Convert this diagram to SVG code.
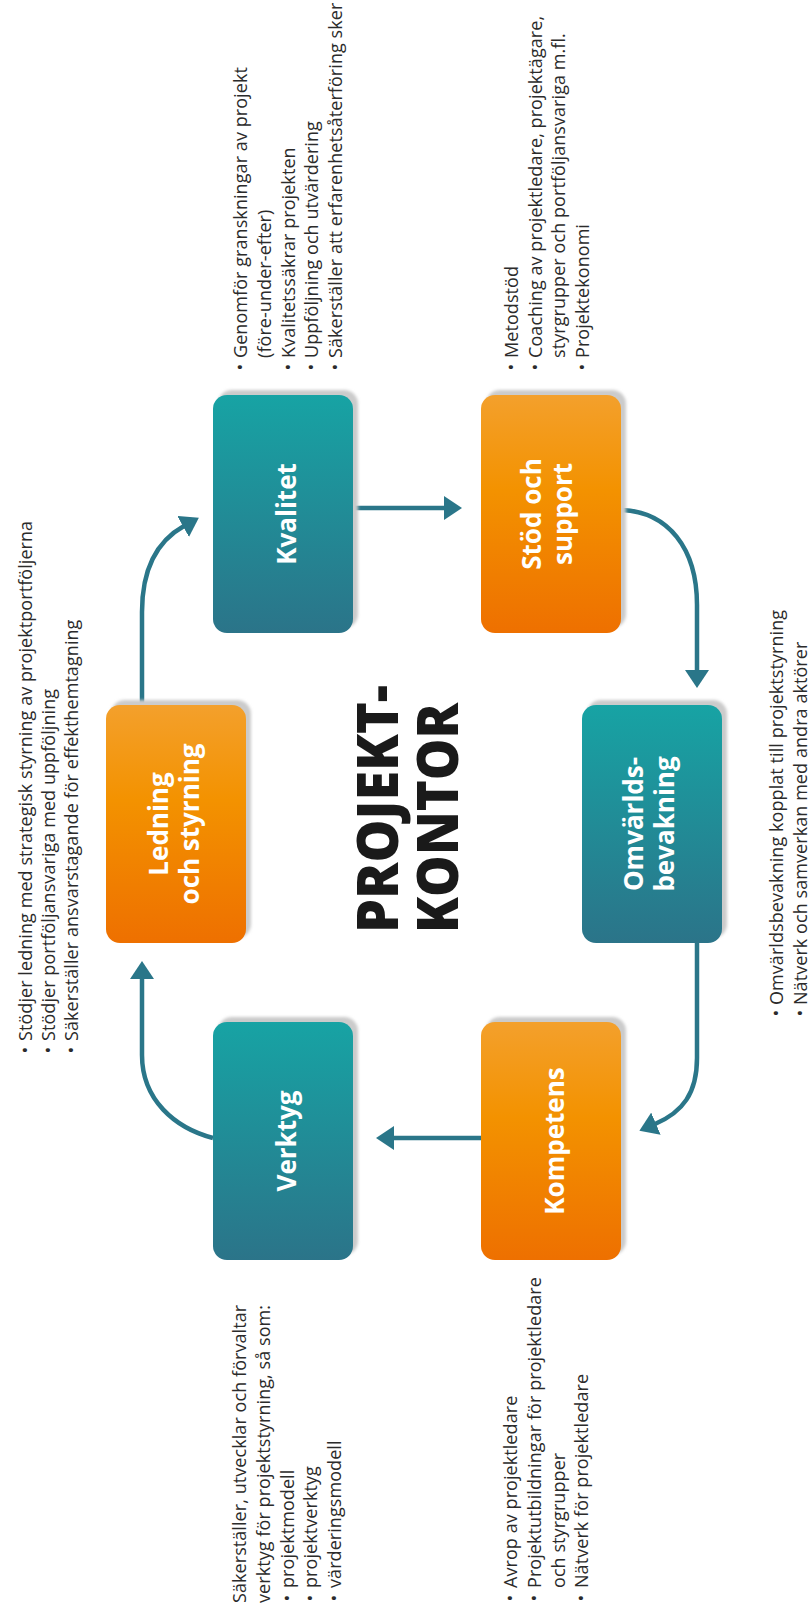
<svg xmlns="http://www.w3.org/2000/svg" width="809" height="1608" viewBox="0 0 809 1608">
<defs>
<linearGradient id="gTeal" x1="0" y1="0" x2="0" y2="1">
<stop offset="0" stop-color="#17a3a4"/>
<stop offset="1" stop-color="#2b7489"/>
</linearGradient>
<linearGradient id="gOrange" x1="0" y1="0" x2="0" y2="1">
<stop offset="0" stop-color="#f3a02c"/>
<stop offset="0.4" stop-color="#f39200"/>
<stop offset="1" stop-color="#ee7000"/>
</linearGradient>
<filter id="blur" x="-10%" y="-10%" width="120%" height="120%">
<feGaussianBlur stdDeviation="1.5"/>
</filter>
<marker id="ah" markerUnits="userSpaceOnUse" markerWidth="18" markerHeight="24" viewBox="0 0 18 24" refX="1" refY="12" orient="auto">
<path d="M0,0 L18,12 L0,24 z" fill="#2a7689"/>
</marker>
</defs>
<style>
.shadow{fill:#cbcbcb;filter:url(#blur)}
.teal{fill:url(#gTeal)}
.orange{fill:url(#gOrange)}
.lbl{font-family:"Open Sans","Noto Sans",sans-serif;font-weight:700;font-size:26px;fill:#ffffff;text-anchor:middle}
.d{font-family:"Open Sans","Noto Sans",sans-serif;font-size:18px;letter-spacing:0.07px;fill:#2b2b2b}
.b{text-anchor:middle}
.title{font-family:"Open Sans","Noto Sans",sans-serif;font-weight:800;font-size:57px;fill:#1a1a1a}
.conn{fill:none;stroke:#2a7689;stroke-width:4.5}
</style>
<rect width="809" height="1608" fill="#ffffff"/>

<g id="connectors">
<path class="conn" d="M142,705 L142,612 C142,568 157,541 184,526" marker-end="url(#ah)"/>
<path class="conn" d="M353,508 L445,508" marker-end="url(#ah)"/>
<path class="conn" d="M622,510 C668,512 697,548 697,605 L697,671" marker-end="url(#ah)"/>
<path class="conn" d="M697,943 L697,1058 C697,1093 683,1112 655,1124" marker-end="url(#ah)"/>
<path class="conn" d="M481,1138 L393,1138" marker-end="url(#ah)"/>
<path class="conn" d="M213,1138 C175,1128 142,1100 142,1055 L142,978" marker-end="url(#ah)"/>
</g>

<g id="node-kvalitet">
<rect class="shadow" x="218" y="390" width="140" height="238" rx="14"/>
<rect class="teal" x="213" y="395" width="140" height="238" rx="14"/>
<text class="lbl" transform="translate(296,514) rotate(-90)">Kvalitet</text>
</g>

<g id="node-stod">
<rect class="shadow" x="486" y="390" width="140" height="238" rx="14"/>
<rect class="orange" x="481" y="395" width="140" height="238" rx="14"/>
<text class="lbl" transform="translate(541,514) rotate(-90)">Stöd och</text>
<text class="lbl" transform="translate(572,514) rotate(-90)">support</text>
</g>

<g id="node-ledning">
<rect class="shadow" x="111" y="700" width="140" height="238" rx="14"/>
<rect class="orange" x="106" y="705" width="140" height="238" rx="14"/>
<text class="lbl" transform="translate(168,824) rotate(-90)">Ledning</text>
<text class="lbl" transform="translate(199,824) rotate(-90)">och styrning</text>
</g>

<g id="node-omvarld">
<rect class="shadow" x="587" y="700" width="140" height="238" rx="14"/>
<rect class="teal" x="582" y="705" width="140" height="238" rx="14"/>
<text class="lbl" transform="translate(643,824) rotate(-90)">Omvärlds-</text>
<text class="lbl" transform="translate(674,824) rotate(-90)">bevakning</text>
</g>

<g id="node-verktyg">
<rect class="shadow" x="218" y="1017" width="140" height="238" rx="14"/>
<rect class="teal" x="213" y="1022" width="140" height="238" rx="14"/>
<text class="lbl" transform="translate(296,1141) rotate(-90)">Verktyg</text>
</g>

<g id="node-kompetens">
<rect class="shadow" x="486" y="1017" width="140" height="238" rx="14"/>
<rect class="orange" x="481" y="1022" width="140" height="238" rx="14"/>
<text class="lbl" transform="translate(564,1141) rotate(-90)">Kompetens</text>
</g>

<g id="title">
<text class="title" transform="translate(398,933) rotate(-90)" textLength="248" lengthAdjust="spacingAndGlyphs">PROJEKT-</text>
<text class="title" transform="translate(458,933) rotate(-90)" textLength="230" lengthAdjust="spacingAndGlyphs">KONTOR</text>
</g>

<g id="desc-kvalitet">
<text class="d b" transform="translate(247,367) rotate(-90)">•</text>
<text class="d" transform="translate(247,358) rotate(-90)">Genomför granskningar av projekt</text>
<text class="d" transform="translate(271,358) rotate(-90)">(före-under-efter)</text>
<text class="d b" transform="translate(295,367) rotate(-90)">•</text>
<text class="d" transform="translate(295,358) rotate(-90)">Kvalitetssäkrar projekten</text>
<text class="d b" transform="translate(318,367) rotate(-90)">•</text>
<text class="d" transform="translate(318,358) rotate(-90)">Uppföljning och utvärdering</text>
<text class="d b" transform="translate(342,367) rotate(-90)">•</text>
<text class="d" transform="translate(342,358) rotate(-90)">Säkerställer att erfarenhetsåterföring sker</text>
</g>

<g id="desc-stod">
<text class="d b" transform="translate(518,367) rotate(-90)">•</text>
<text class="d" transform="translate(518,358) rotate(-90)">Metodstöd</text>
<text class="d b" transform="translate(542,367) rotate(-90)">•</text>
<text class="d" transform="translate(542,358) rotate(-90)">Coaching av projektledare, projektägare,</text>
<text class="d" transform="translate(565,358) rotate(-90)">styrgrupper och portföljansvariga m.fl.</text>
<text class="d b" transform="translate(589,367) rotate(-90)">•</text>
<text class="d" transform="translate(589,358) rotate(-90)">Projektekonomi</text>
</g>

<g id="desc-ledning">
<text class="d b" transform="translate(32,1050) rotate(-90)">•</text>
<text class="d" transform="translate(32,1041) rotate(-90)">Stödjer ledning med strategisk styrning av projektportföljerna</text>
<text class="d b" transform="translate(55,1050) rotate(-90)">•</text>
<text class="d" transform="translate(55,1041) rotate(-90)">Stödjer portföljansvariga med uppföljning</text>
<text class="d b" transform="translate(78,1050) rotate(-90)">•</text>
<text class="d" transform="translate(78,1041) rotate(-90)">Säkerställer ansvarstagande för effekthemtagning</text>
</g>

<g id="desc-omvarld">
<text class="d b" transform="translate(783,1013) rotate(-90)">•</text>
<text class="d" transform="translate(783,1005) rotate(-90)">Omvärldsbevakning kopplat till projektstyrning</text>
<text class="d b" transform="translate(807,1013) rotate(-90)">•</text>
<text class="d" transform="translate(807,1005) rotate(-90)">Nätverk och samverkan med andra aktörer</text>
</g>

<g id="desc-verktyg">
<text class="d" transform="translate(246,1603) rotate(-90)">Säkerställer, utvecklar och förvaltar</text>
<text class="d" transform="translate(270,1603) rotate(-90)">verktyg för projektstyrning, så som:</text>
<text class="d b" transform="translate(294,1598) rotate(-90)">•</text>
<text class="d" transform="translate(294,1588) rotate(-90)">projektmodell</text>
<text class="d b" transform="translate(317,1598) rotate(-90)">•</text>
<text class="d" transform="translate(317,1588) rotate(-90)">projektverktyg</text>
<text class="d b" transform="translate(341,1598) rotate(-90)">•</text>
<text class="d" transform="translate(341,1588) rotate(-90)">värderingsmodell</text>
</g>

<g id="desc-kompetens">
<text class="d b" transform="translate(517,1598) rotate(-90)">•</text>
<text class="d" transform="translate(517,1588) rotate(-90)">Avrop av projektledare</text>
<text class="d b" transform="translate(541,1598) rotate(-90)">•</text>
<text class="d" transform="translate(541,1588) rotate(-90)">Projektutbildningar för projektledare</text>
<text class="d" transform="translate(565,1588) rotate(-90)">och styrgrupper</text>
<text class="d b" transform="translate(588,1598) rotate(-90)">•</text>
<text class="d" transform="translate(588,1588) rotate(-90)">Nätverk för projektledare</text>
</g>
</svg>
